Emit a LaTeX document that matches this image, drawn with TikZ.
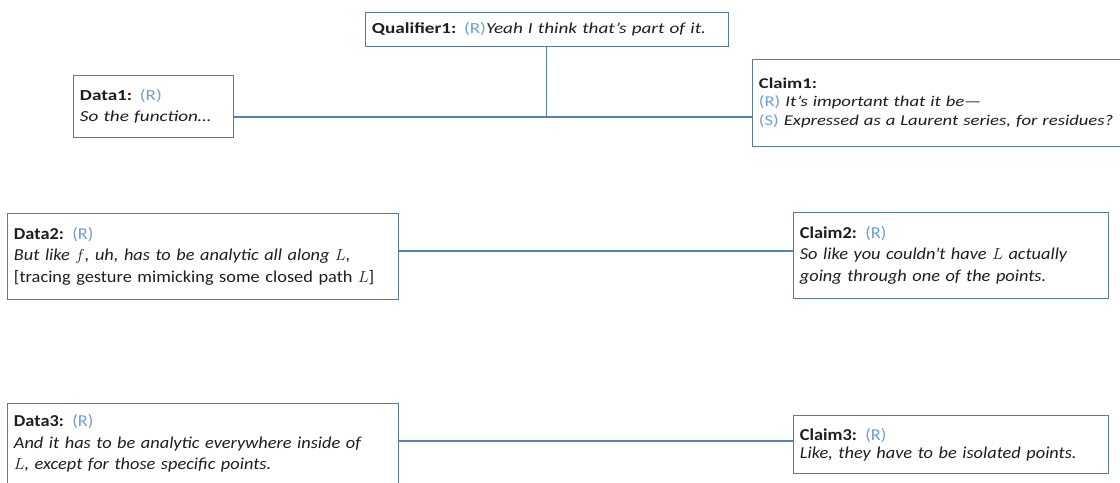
\documentclass[tikz,border=0pt]{standalone}
\usepackage{fontspec}
\setmainfont{Carlito}
\newfontfamily\topfont[FakeStretch=1.25]{Carlito}
\newfontfamily\lowfont[FakeStretch=1.1]{Carlito}
\usepackage{xcolor}
\usetikzlibrary{positioning}

\definecolor{boxline}{RGB}{88,124,158}
\definecolor{linkline}{RGB}{84,130,178}
\definecolor{speaker}{RGB}{110,160,210}
\definecolor{talk}{RGB}{30,30,30}

% speaker tag and heading
\newcommand{\spk}[1]{\textcolor{speaker}{\textup{(#1)}}}
\newcommand{\hd}[1]{\textbf{#1}}

\begin{document}
\begin{tikzpicture}[
    x=0.75pt, y=-0.75pt,
    box/.style={rectangle, draw=boxline, fill=white, anchor=north west, align=left, inner xsep=5pt, inner ysep=2pt, text=talk, font=\topfont\fontsize{11.5}{14}\selectfont},
    bigbox/.style={box, font=\lowfont\fontsize{12.5}{16}\selectfont},
    link/.style={draw=linkline, thick}
]
\useasboundingbox (0,0) rectangle (1120,482);

% Top row: qualifier over data1 -> claim1
\node[box, minimum width=270pt, minimum height=25.5pt, text width=262pt] (qual) at (365,12)
    {\hd{Qualifier1:} \spk{R}\textit{Yeah I think that’s part of it.}};
\node[box, minimum width=118.5pt, minimum height=46.5pt, text width=110pt] (data1) at (73,75)
    {\hd{Data1:} \spk{R}\\[2pt] \textit{So the function…}};
\node[box, minimum width=300pt, minimum height=65.25pt, text width=292pt,
      font=\topfont\fontsize{11.2}{14}\selectfont] (claim1) at (752,59)
    {\hd{Claim1:}\\ \spk{R} \textit{It’s important that it be—}\\ \spk{S} \textit{Expressed as a Laurent series, for residues?}};

% Middle row
\node[bigbox, minimum width=291.75pt, minimum height=64.5pt, text width=283pt] (data2) at (7,213)
    {\hd{Data2:} \spk{R}\\ \textit{But like $f$, uh, has to be analytic all along $L$,}\\ {[}tracing gesture mimicking some closed path $L${]}\\[-4pt]};
\node[bigbox, minimum width=234.75pt, minimum height=64.5pt, text width=226pt] (claim2) at (793,212)
    {\hd{Claim2:} \spk{R}\\ \textit{So like you couldn\textquotesingle t have $L$ actually}\\ \textit{going through one of the points.}\\[-4pt]};

% Bottom row
\node[bigbox, minimum width=291.75pt, minimum height=60pt, text width=283pt] (data3) at (7,403)
    {\hd{Data3:} \spk{R}\\ \textit{And it has to be analytic everywhere inside of}\\ \textit{$L$, except for those specific points.}};
\node[bigbox, minimum width=234pt, minimum height=43.5pt, text width=226pt,
      font=\lowfont\fontsize{12.5}{13.5}\selectfont] (claim3) at (793,415)
    {\hd{Claim3:} \spk{R}\\ \textit{Like, they have to be isolated points.}\\[-3pt]};

% Connectors
\coordinate (join1) at (qual.south |- 0,117);
\draw[link] (data1.east |- join1) -- (claim1.west |- join1);
\draw[link] (qual.south) -- (join1);
\draw[link] (data2.east |- 0,251) -- (claim2.west |- 0,251);
\draw[link] (data3.east |- 0,441) -- (claim3.west |- 0,441);

\end{tikzpicture}
\end{document}
